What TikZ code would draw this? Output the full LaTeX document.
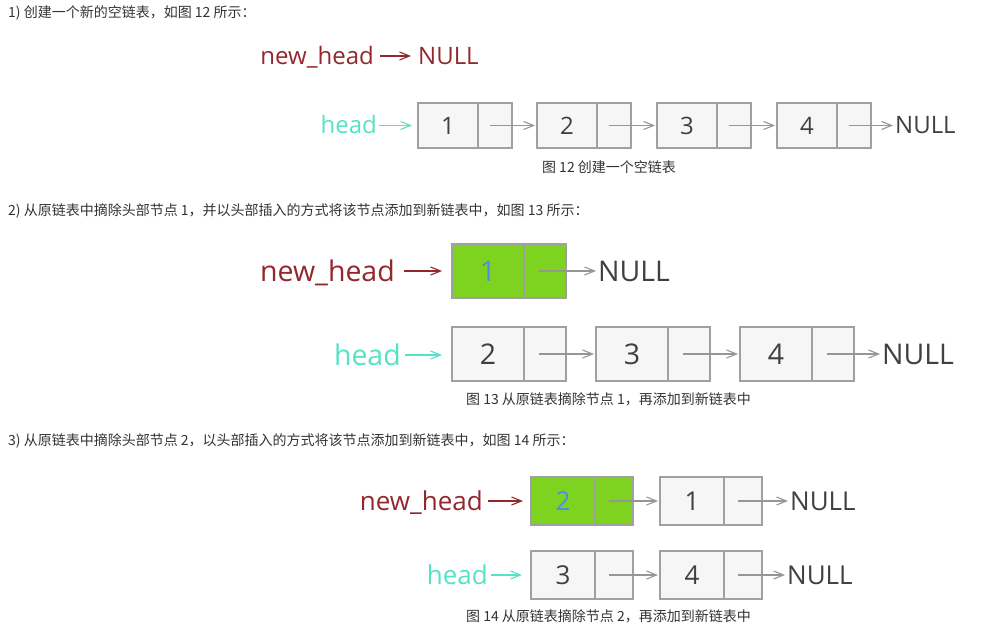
\documentclass[tikz,border=0pt]{standalone}
\usepackage{fontspec}
\setmainfont{Open Sans}
\newfontfamily\cjk{Noto Sans CJK SC}
\usetikzlibrary{arrows.meta}
\definecolor{headred}{RGB}{146,40,43}
\definecolor{headteal}{RGB}{86,226,196}
\definecolor{leafgreen}{RGB}{126,211,33}
\definecolor{numblue}{RGB}{74,144,226}
\definecolor{boxfill}{RGB}{246,246,246}
\definecolor{boxline}{RGB}{160,160,160}
\definecolor{arrowgray}{RGB}{150,150,150}
\definecolor{numgray}{RGB}{64,64,64}
\definecolor{titlegray}{RGB}{51,51,51}
\begin{document}
\begin{tikzpicture}[x=1pt,y=-1pt,
   box/.style={draw=boxline,fill=boxfill,line width=1.2pt,inner sep=0pt,outer sep=0pt,text=numgray},
   gbox/.style={box,fill=leafgreen,text=numblue},
   dA/.style={minimum width=60pt,minimum height=45pt,font=\fontsize{24}{24}\selectfont},
   pA/.style={minimum width=34pt,minimum height=45pt},
   dB/.style={minimum width=72pt,minimum height=54pt,font=\fontsize{28.5}{28.5}\selectfont},
   pB/.style={minimum width=42pt,minimum height=54pt},
   dC/.style={minimum width=64pt,minimum height=48pt,font=\fontsize{26}{26}\selectfont},
   pC/.style={minimum width=38pt,minimum height=48pt},
   wA/.style={inner sep=2pt,text height=17pt,text depth=0pt,font=\fontsize{24}{24}\selectfont},
   wB/.style={inner sep=2pt,text height=20.5pt,text depth=0pt,font=\fontsize{28.5}{28.5}\selectfont},
   wC/.style={inner sep=2pt,text height=18.7pt,text depth=0pt,font=\fontsize{26}{26}\selectfont},
   nul/.style={text=numgray},
   link/.style={draw=arrowgray,line width=1.1pt,shorten >=2pt,-{Straight Barb[length=10pt,width=8pt]}},
   redlink/.style={link,draw=headred,shorten >=5pt},
   teallink/.style={link,draw=headteal,shorten >=6pt},
   title/.style={anchor=west,inner sep=0pt,text=titlegray,font=\cjk\fontsize{14}{14}\selectfont},
   figcap/.style={inner sep=0pt,text=titlegray,font=\cjk\fontsize{14}{14}\selectfont}]
   \useasboundingbox (0,0) rectangle (998,644);
   \node[title] (t1) at (8,13) {1) 创建一个新的空链表，如图 12 所示：};
   \node[wA,text=headred,anchor=east] (nh1) at (376,56) {new\_head};
   \node[wA,text=headred,anchor=west] (n0) at (416,56) {NULL};
   \node[wA,text=headteal,anchor=east] (h1) at (379,125.5) {head};
   \node[box,dA] (a1) at (448,125.5) {1};
   \node[box,pA] (ap1) at (495,125.5) {};
   \node[box,dA] (a2) at (567,125.5) {2};
   \node[box,pA] (ap2) at (614,125.5) {};
   \node[box,dA] (a3) at (687,125.5) {3};
   \node[box,pA] (ap3) at (734,125.5) {};
   \node[box,dA] (a4) at (807,125.5) {4};
   \node[box,pA] (ap4) at (854,125.5) {};
   \node[wA,nul,anchor=west] (n1) at (893,125.5) {NULL};
   \draw[redlink,shorten <=4pt] (nh1) -- (n0);
   \draw[teallink] (h1) -- (a1);
   \draw[link] ([xshift=-5pt]ap1.center) -- (a2);
   \draw[link] ([xshift=-5pt]ap2.center) -- (a3);
   \draw[link] ([xshift=-5pt]ap3.center) -- (a4);
   \draw[link,shorten >=0pt] ([xshift=-5pt]ap4.center) -- (n1);
   \node[figcap] (c1) at (609,167) {图 12 创建一个空链表};
   \node[title] (t2) at (8,211) {2) 从原链表中摘除头部节点 1，并以头部插入的方式将该节点添加到新链表中，如图 13 所示：};
   \node[wB,text=headred,anchor=east] (nh2) at (397,271) {new\_head};
   \node[gbox,dB] (b1) at (488,271) {1};
   \node[gbox,pB] (bp1) at (545,271) {};
   \node[wB,nul,anchor=west] (n2) at (596,271) {NULL};
   \node[wB,text=headteal,anchor=east] (h2) at (403,355) {head};
   \node[box,dB] (b2) at (488,354) {2};
   \node[box,pB] (bp2) at (545,354) {};
   \node[box,dB] (b3) at (632,354) {3};
   \node[box,pB] (bp3) at (689,354) {};
   \node[box,dB] (b4) at (776,354) {4};
   \node[box,pB] (bp4) at (833,354) {};
   \node[wB,nul,anchor=west] (n3) at (880,354) {NULL};
   \draw[redlink,shorten <=7pt,shorten >=10pt] (nh2) -- (b1);
   \draw[link,shorten >=0pt] ([xshift=-6pt]bp1.center) -- (n2);
   \draw[teallink,shorten <=2pt,shorten >=10pt] (h2) -- (b2.west |- h2);
   \draw[link] ([xshift=-6pt]bp2.center) -- (b3);
   \draw[link] ([xshift=-6pt]bp3.center) -- (b4);
   \draw[link,shorten >=0pt] ([xshift=-6pt]bp4.center) -- (n3);
   \node[figcap] (c2) at (608.5,399) {图 13 从原链表摘除节点 1，再添加到新链表中};
   \node[title] (t3) at (8,441) {3) 从原链表中摘除头部节点 2，以头部插入的方式将该节点添加到新链表中，如图 14 所示：};
   \node[wC,text=headred,anchor=east] (nh3) at (485,501) {new\_head};
   \node[gbox,dC] (g1) at (563,501) {2};
   \node[gbox,pC] (gp1) at (614,501) {};
   \node[box,dC] (g2) at (692,501) {1};
   \node[box,pC] (gp2) at (743,501) {};
   \node[wC,nul,anchor=west] (n4) at (788,501) {NULL};
   \node[wC,text=headteal,anchor=east] (h3) at (490,575) {head};
   \node[box,dC] (g3) at (563,575) {3};
   \node[box,pC] (gp3) at (614,575) {};
   \node[box,dC] (g4) at (692,575) {4};
   \node[box,pC] (gp4) at (743,575) {};
   \node[wC,nul,anchor=west] (n5) at (785,575) {NULL};
   \draw[redlink,shorten <=3pt,shorten >=8pt] (nh3) -- (g1);
   \draw[link] ([xshift=-5pt]gp1.center) -- (g2);
   \draw[link,shorten >=0pt] ([xshift=-5pt]gp2.center) -- (n4);
   \draw[teallink,shorten <=1pt,shorten >=9pt] (h3) -- (g3);
   \draw[link] ([xshift=-5pt]gp3.center) -- (g4);
   \draw[link,shorten >=0pt] ([xshift=-5pt]gp4.center) -- (n5);
   \node[figcap] (c3) at (608.5,616) {图 14 从原链表摘除节点 2，再添加到新链表中};
\end{tikzpicture}
\end{document}
